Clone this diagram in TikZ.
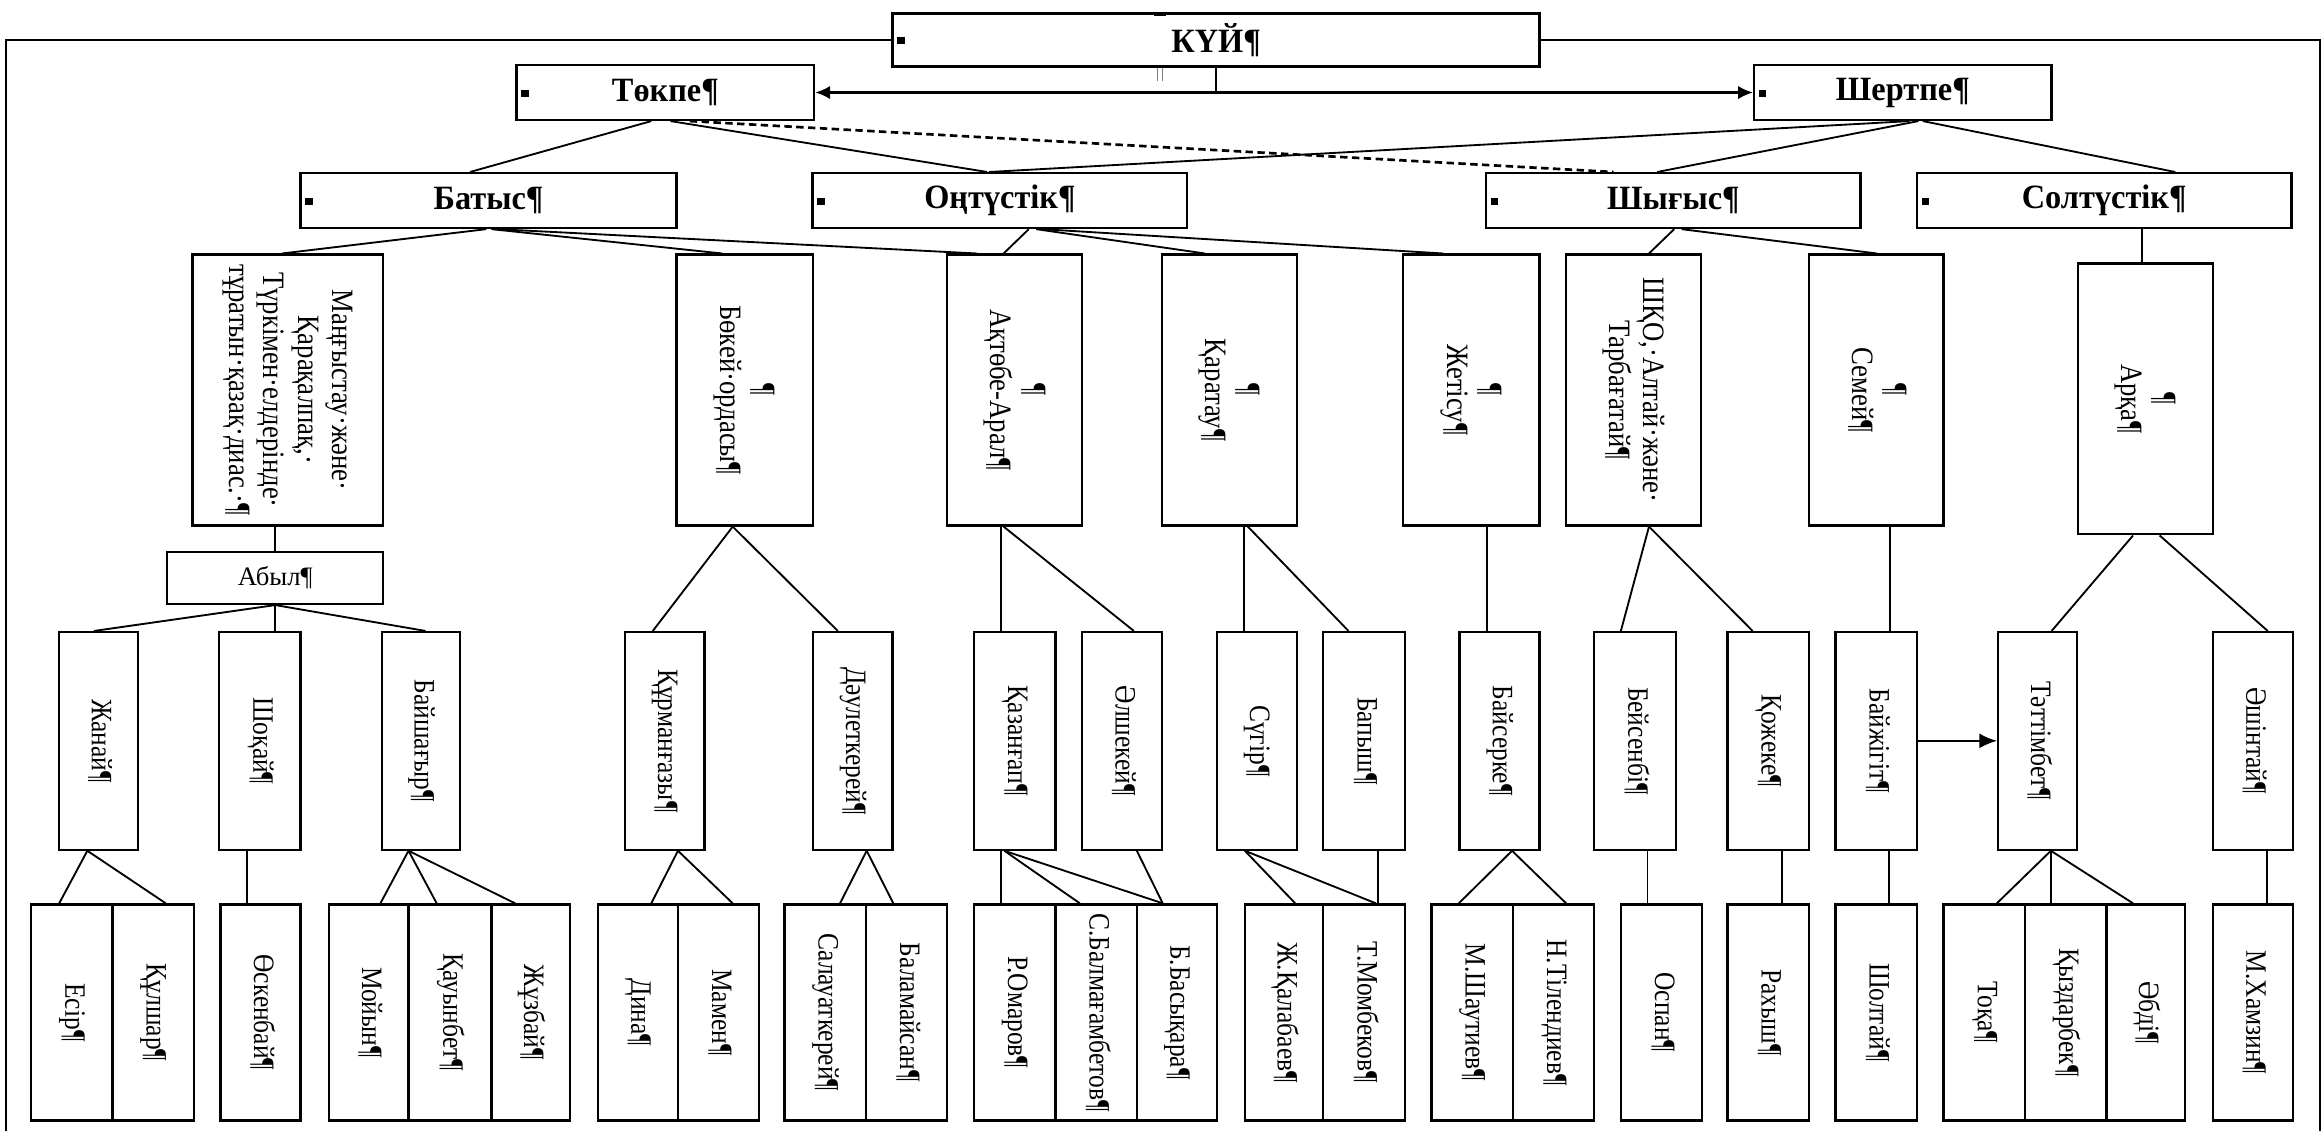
\documentclass[tikz,border=0pt]{standalone}
\usepackage{fontspec}
\setmainfont{Liberation Serif}
\newfontfamily\vfont[FakeStretch=0.86]{Liberation Serif}
\newfontfamily\tfont[FakeStretch=0.95]{Liberation Serif}
\usetikzlibrary{arrows.meta}
\newcommand\vt[1]{\rotatebox{-90}{\begin{tabular}{@{}c@{}}#1\end{tabular}}}
\newcommand\Bx[7]{\node[#6, minimum width={((#4)-(#2))*1pt}, minimum height={((#5)-(#3))*1pt}] (#1) at ({((#2)+(#4))/2},{((#3)+(#5))/2}) {#7};}
\tikzset{
  bx/.style={draw, line width=1.5pt, inner sep=0pt, fill=white},
  tb/.style={bx, line width=1.6pt, font=\tfont\fontsize{23}{26}\selectfont\bfseries},
  mid/.style={bx, font=\vfont\fontsize{21}{23.3}\selectfont},
  hb/.style={bx, font=\fontsize{18}{22}\selectfont},
  lf/.style={bx, font=\vfont\fontsize{20}{22}\selectfont},
  ln/.style={line width=1.25pt},
  frame/.style={line width=1.4pt},
  bul/.style={fill=black},
  arr/.style={-{Latex[length=12pt,width=10pt]}},
}
\begin{document}
\begin{tikzpicture}[x=1pt,y=-1pt]
\useasboundingbox (0,0) rectangle (1568,764);
% top level
\Bx{kui}{603}{9}{1040}{45}{tb}{КҮЙ¶}
\Bx{tokpe}{349}{44}{550}{81}{tb}{Төкпе¶}
\Bx{shertpe}{1185}{44}{1386}{81}{tb}{Шертпе¶}
\Bx{batys}{203}{117}{457}{154}{tb}{Батыс¶}
\Bx{ontustik}{549}{117}{802}{154}{tb}{Оңтүстік¶}
\Bx{shygys}{1004}{117}{1257}{154}{tb}{Шығыс¶}
\Bx{soltustik}{1295}{117}{1548}{154}{tb}{Солтүстік¶}
% bullets
\foreach \n in {kui,tokpe,shertpe,batys,ontustik,shygys,soltustik}
  \fill[bul] ([xshift=4pt,yshift=2pt]\n.west) rectangle ++(5,5);
\fill ([xshift=-42pt]kui.north) rectangle ++(8,2.5);
\draw[gray, line width=0.5pt] ([xshift=-39.5pt]kui.south) -- ++(0,9);
\draw[gray, line width=0.5pt] ([xshift=-36.5pt]kui.south) -- ++(0,9);
% frame
\coordinate (fTL) at (4,27);
\coordinate (fBL) at (4,764);
\coordinate (fTR) at (1567,27);
\coordinate (fBR) at (1567,764);
\draw[frame] (kui.west) -- (fTL) -- (fBL);
\draw[frame] (kui.east) -- (fTR) -- (fBR);
% level 3
\Bx{mang}{130}{172}{259}{355}{mid}{\vt{Маңғыстау·және·\\Қарақалпақ,·\\Түркімен·елдерінде·\\тұратын·қазақ·диас.·¶}}
\Bx{bokey}{457}{172}{549}{355}{mid}{\vt{¶\\Бөкей·ордасы¶}}
\Bx{aktobe}{640}{172}{731}{355}{mid}{\vt{¶\\Ақтөбе-Арал¶}}
\Bx{karatau}{785}{172}{876}{355}{mid}{\vt{¶\\Қаратау¶}}
\Bx{zhetisu}{948}{172}{1040}{355}{mid}{\vt{¶\\Жетісу¶}}
\Bx{shko}{1058}{172}{1149}{355}{mid}{\vt{ШҚО,·Алтай·және·\\Тарбағатай¶}}
\Bx{semey}{1222}{172}{1313}{355}{mid}{\vt{¶\\Семей¶}}
\Bx{arka}{1404}{178}{1495}{361}{mid}{\vt{¶\\Арқа¶}}
\Bx{abyl}{113}{373}{259}{408}{hb}{Абыл¶}
% level 4
\Bx{zhanai}{40}{427}{93}{574}{lf}{\vt{Жанай¶}}
\Bx{shokai}{148}{427}{203}{574}{lf}{\vt{Шоқай¶}}
\Bx{baishagyr}{258}{427}{311}{574}{lf}{\vt{Байшағыр¶}}
\Bx{kurmangazy}{422}{427}{476}{574}{lf}{\vt{Құрманғазы¶}}
\Bx{dauletkerei}{549}{427}{603}{574}{lf}{\vt{Дәулеткерей¶}}
\Bx{kazangap}{658}{427}{713}{574}{lf}{\vt{Қазанғап¶}}
\Bx{alshekei}{731}{427}{785}{574}{lf}{\vt{Әлшекей¶}}
\Bx{sugir}{822}{427}{876}{574}{lf}{\vt{Сүгір¶}}
\Bx{bapysh}{894}{427}{949}{574}{lf}{\vt{Бапыш¶}}
\Bx{baiserke}{986}{427}{1040}{574}{lf}{\vt{Байсерке¶}}
\Bx{beisenbi}{1077}{427}{1132}{574}{lf}{\vt{Бейсенбі¶}}
\Bx{kozheke}{1167}{427}{1222}{574}{lf}{\vt{Қожеке¶}}
\Bx{baizhigit}{1240}{427}{1295}{574}{lf}{\vt{Байжігіт¶}}
\Bx{tattimbet}{1350}{427}{1403}{574}{lf}{\vt{Тәттімбет¶}}
\Bx{ashintai}{1495}{427}{1549}{574}{lf}{\vt{Әшінтай¶}}
% level 5
\Bx{esir}{21}{611}{76}{757}{lf}{\vt{Есір¶}}
\Bx{kulshar}{76}{611}{131}{757}{lf}{\vt{Құлшар¶}}
\Bx{oskenbai}{149}{611}{203}{757}{lf}{\vt{Өскенбай¶}}
\Bx{moiyn}{222}{611}{276}{757}{lf}{\vt{Мойын¶}}
\Bx{kauynbet}{276}{611}{332}{757}{lf}{\vt{Қауынбет¶}}
\Bx{zhuzbai}{332}{611}{385}{757}{lf}{\vt{Жұзбай¶}}
\Bx{dina}{404}{611}{458}{757}{lf}{\vt{Дина¶}}
\Bx{mamen}{458}{611}{513}{757}{lf}{\vt{Мамен¶}}
\Bx{salauat}{530}{611}{585}{757}{lf}{\vt{Салауаткерей¶}}
\Bx{balamaisan}{585}{611}{640}{757}{lf}{\vt{Баламайсан¶}}
\Bx{omarov}{658}{611}{713}{757}{lf}{\vt{Р.Омаров¶}}
\Bx{balmag}{713}{611}{768}{757}{lf}{\vt{С.Балмағамбетов¶}}
\Bx{basykara}{768}{611}{822}{757}{lf}{\vt{Б.Басықара¶}}
\Bx{kalabaev}{841}{611}{894}{757}{lf}{\vt{Ж.Қалабаев¶}}
\Bx{mombekov}{894}{611}{949}{757}{lf}{\vt{Т.Момбеков¶}}
\Bx{shautiev}{967}{611}{1022}{757}{lf}{\vt{М.Шаутиев¶}}
\Bx{tilendiev}{1022}{611}{1077}{757}{lf}{\vt{Н.Тілендиев¶}}
\Bx{ospan}{1095}{611}{1150}{757}{lf}{\vt{Оспан¶}}
\Bx{rahysh}{1167}{611}{1222}{757}{lf}{\vt{Рахыш¶}}
\Bx{sholtai}{1240}{611}{1295}{757}{lf}{\vt{Шолтай¶}}
\Bx{toka}{1313}{611}{1368}{757}{lf}{\vt{Тоқа¶}}
\Bx{kyzdarbek}{1368}{611}{1423}{757}{lf}{\vt{Қыздарбек¶}}
\Bx{abdi}{1423}{611}{1476}{757}{lf}{\vt{Әбді¶}}
\Bx{hamzin}{1495}{611}{1549}{757}{lf}{\vt{М.Хамзин¶}}
% top connectors
\draw[ln] (kui.south) -- (kui.south |- tokpe.east);
\draw[ln, line width=1.4pt, {Latex[length=10pt,width=9pt]}-{Latex[length=10pt,width=9pt]}] (tokpe.east) -- (shertpe.west);
\draw[ln] ([xshift=-9.5pt]tokpe.south) -- ([xshift=-12.5pt]batys.north);
\draw[ln] ([xshift=3.5pt]tokpe.south) -- ([xshift=-8.5pt]ontustik.north);
\draw[ln, line width=1.8pt, dash pattern=on 5pt off 3pt] ([xshift=16.5pt]tokpe.south) -- ([xshift=-40.5pt]shygys.north);
\draw[ln] ([xshift=4.5pt]shertpe.south) -- ([xshift=-7.5pt]ontustik.north);
\draw[ln] ([xshift=10.5pt]shertpe.south) -- ([xshift=-11pt]shygys.north);
\draw[ln] ([xshift=13.5pt]shertpe.south) -- ([xshift=48pt]soltustik.north);
% level 2 -> 3
\draw[ln] ([xshift=-1.5pt]batys.south) -- ([xshift=-4pt]mang.north);
\draw[ln] ([xshift=2pt]batys.south) -- ([xshift=-15pt]bokey.north);
\draw[ln] ([xshift=6pt]batys.south) -- ([xshift=-25.5pt]aktobe.north);
\draw[ln] ([xshift=19.5pt]ontustik.south) -- ([xshift=-7.5pt]aktobe.north);
\draw[ln] ([xshift=24.5pt]ontustik.south) -- ([xshift=-16.5pt]karatau.north);
\draw[ln] ([xshift=28.5pt]ontustik.south) -- ([xshift=-19pt]zhetisu.north);
\draw[ln] ([xshift=0.5pt]shygys.south) -- ([xshift=10.5pt]shko.north);
\draw[ln] ([xshift=5.5pt]shygys.south) -- ([xshift=0.5pt]semey.north);
\draw[ln] ([xshift=25.5pt]soltustik.south) -- ([xshift=-2.5pt]arka.north);
% level 3 -> 4
\draw[ln] ([xshift=-8.5pt]mang.south) -- (abyl.north);
\draw[ln] (abyl.south) -- ([xshift=-3pt]zhanai.north);
\draw[ln] (abyl.south) -- ([xshift=10.5pt]shokai.north);
\draw[ln] (abyl.south) -- ([xshift=3pt]baishagyr.north);
\draw[ln] ([xshift=-8pt]bokey.south) -- ([xshift=-8pt]kurmangazy.north);
\draw[ln] ([xshift=-8pt]bokey.south) -- ([xshift=-10pt]dauletkerei.north);
\draw[ln] ([xshift=-9.5pt]aktobe.south) -- ([xshift=-9.5pt]kazangap.north);
\draw[ln] ([xshift=-7.5pt]aktobe.south) -- ([xshift=8pt]alshekei.north);
\draw[ln] ([xshift=10pt]karatau.south) -- ([xshift=-8.5pt]sugir.north);
\draw[ln] ([xshift=12.5pt]karatau.south) -- ([xshift=-10.5pt]bapysh.north);
\draw[ln] ([xshift=10.5pt]zhetisu.south) -- ([xshift=-8.5pt]baiserke.north);
\draw[ln] ([xshift=10.5pt]shko.south) -- ([xshift=-9.5pt]beisenbi.north);
\draw[ln] ([xshift=10.5pt]shko.south) -- ([xshift=-10.5pt]kozheke.north);
\draw[ln] ([xshift=9.5pt]semey.south) -- ([xshift=9.5pt]baizhigit.north);
\draw[ln] ([xshift=-8.5pt]arka.south) -- ([xshift=9.5pt]tattimbet.north);
\draw[ln] ([xshift=9.5pt]arka.south) -- ([xshift=10pt]ashintai.north);
\draw[ln, line width=1.5pt, arr] (baizhigit.east) -- (tattimbet.west);
% level 4 -> 5
\draw[ln] ([xshift=-7.5pt]zhanai.south) -- ([xshift=-8.5pt]esir.north);
\draw[ln] ([xshift=-7.5pt]zhanai.south) -- ([xshift=8.5pt]kulshar.north);
\draw[ln] ([xshift=-8.5pt]shokai.south) -- ([xshift=-9pt]oskenbai.north);
\draw[ln] ([xshift=-8.5pt]baishagyr.south) -- ([xshift=8pt]moiyn.north);
\draw[ln] ([xshift=-8.5pt]baishagyr.south) -- ([xshift=-9pt]kauynbet.north);
\draw[ln] ([xshift=-8.5pt]baishagyr.south) -- ([xshift=-10.5pt]zhuzbai.north);
\draw[ln] ([xshift=9pt]kurmangazy.south) -- ([xshift=9pt]dina.north);
\draw[ln] ([xshift=9pt]kurmangazy.south) -- ([xshift=9.5pt]mamen.north);
\draw[ln] ([xshift=9.5pt]dauletkerei.south) -- ([xshift=10pt]salauat.north);
\draw[ln] ([xshift=9.5pt]dauletkerei.south) -- ([xshift=-9pt]balamaisan.north);
\draw[ln] ([xshift=-9.5pt]kazangap.south) -- ([xshift=-9.5pt]omarov.north);
\draw[ln] ([xshift=-7pt]kazangap.south) -- ([xshift=-11pt]balmag.north);
\draw[ln] ([xshift=-7pt]kazangap.south) -- ([xshift=-9.5pt]basykara.north);
\draw[ln] ([xshift=10pt]alshekei.south) -- ([xshift=-9.5pt]basykara.north);
\draw[ln] ([xshift=-8pt]sugir.south) -- ([xshift=7.5pt]kalabaev.north);
\draw[ln] ([xshift=-8pt]sugir.south) -- ([xshift=8pt]mombekov.north);
\draw[ln] ([xshift=9.5pt]bapysh.south) -- ([xshift=9.5pt]mombekov.north);
\draw[ln] ([xshift=8.5pt]baiserke.south) -- ([xshift=-9pt]shautiev.north);
\draw[ln] ([xshift=8.5pt]baiserke.south) -- ([xshift=8.5pt]tilendiev.north);
\draw[ln] ([xshift=8.5pt]beisenbi.south) -- ([xshift=-9.5pt]ospan.north);
\draw[ln] ([xshift=9.5pt]kozheke.south) -- ([xshift=9.5pt]rahysh.north);
\draw[ln] ([xshift=8.5pt]baizhigit.south) -- ([xshift=8.5pt]sholtai.north);
\draw[ln] ([xshift=9pt]tattimbet.south) -- ([xshift=8.5pt]toka.north);
\draw[ln] ([xshift=9pt]tattimbet.south) -- ([xshift=-10pt]kyzdarbek.north);
\draw[ln] ([xshift=9pt]tattimbet.south) -- ([xshift=-8.5pt]abdi.north);
\draw[ln] ([xshift=9.5pt]ashintai.south) -- ([xshift=9.5pt]hamzin.north);
\end{tikzpicture}
\end{document}
